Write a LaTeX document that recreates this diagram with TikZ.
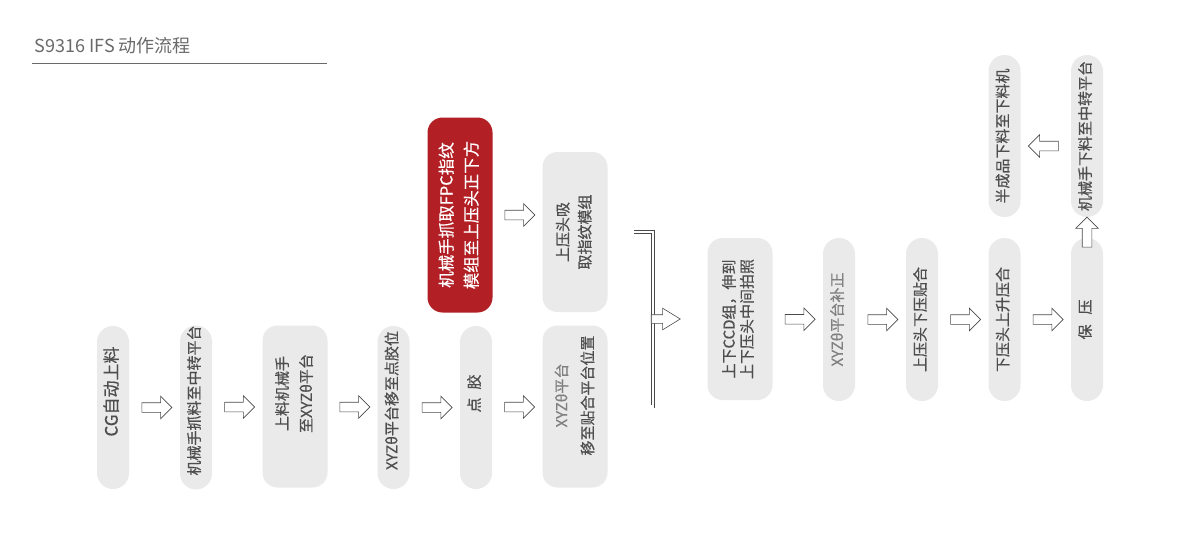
\documentclass[tikz,border=0pt]{standalone}
\usepackage{fontspec}
\setmainfont{Noto Sans CJK SC}[RawFeature={embolden=0.5}]
\newfontfamily\titlefont{Noto Sans CJK SC}
\usepackage{graphicx}
\usetikzlibrary{shapes.arrows,calc}
\definecolor{boxgray}{HTML}{EAEAEA}
\definecolor{textgray}{HTML}{4E4E4E}
\definecolor{paletext}{HTML}{808080}
\definecolor{titlegray}{HTML}{6A6A6A}
\definecolor{fpcred}{HTML}{B21F24}
\definecolor{arrowgray}{HTML}{4A4A4A}
\newcommand{\vlabel}[2][17pt]{\rotatebox{90}{\fontsize{15pt}{#1}\selectfont\begin{tabular}{@{}c@{}}#2\end{tabular}}}
\newcommand{\vlabelup}[3][17pt]{\rotatebox{90}{\fontsize{15pt}{#1}\selectfont\begin{tabular}{@{\hspace{#2}}c@{}}#3\end{tabular}}}

\begin{document}
\begin{tikzpicture}[x=1pt, y=-1pt,
  pill/.style = {fill=boxgray, text=textgray, rounded corners=16pt, minimum width=32pt, minimum height=163pt, inner sep=0pt},
  wide/.style = {fill=boxgray, text=textgray, rounded corners=15pt, minimum width=65pt, minimum height=162pt, inner sep=0pt},
  blockarrow/.style = {single arrow, draw=arrowgray, fill=white, line width=0.6pt, minimum height=30pt, inner xsep=0pt, inner ysep=4.5pt, single arrow head extend=6.5pt, outer sep=0pt}]
\fill [white] (0,0) rectangle (1200,544);
\useasboundingbox (0,0) rectangle (1200,544);
\node [anchor=base west, text=titlegray, font=\titlefont\fontsize{18pt}{21pt}\selectfont] (title) at (31,52) {S9316 IFS 动作流程};
\draw [titlegray, line width=0.8pt] (32,63) -- (327,63);
\node [pill] (cg) at (113,407.5) {\vlabelup{32pt}{\fontsize{17pt}{20pt}\selectfont CG自动上料}};
\node [pill] (grab) at (196,407.5) {\vlabelup{14pt}{机械手抓料至中转平台}};
\node [wide] (load) at (295,406.5) {\vlabelup[24pt]{26pt}{上料机械手\\至XYZθ平台}};
\node [pill] (moveglue) at (393.5,407.5) {\vlabelup{14pt}{XYZθ平台移至点胶位}};
\node [pill] (glue) at (476,407.5) {\vlabelup{28pt}{点\hspace{8pt}胶}};
\node [wide] (moveplat) at (575,406.5) {\vlabelup[26pt]{22pt}{\textcolor{paletext}{XYZθ平台}\\移至贴合平台位置}};
\node [fill=fpcred, text=white, rounded corners=15pt, minimum width=65pt, minimum height=195pt, inner sep=0pt] (fpc) at (460,215) {\rotatebox{90}{\fontsize{16.5pt}{25pt}\selectfont\begin{tabular}{@{}c@{}}机械手抓取FPC指纹\\模组至上压头正下方\end{tabular}}};
\node [wide, minimum height=160pt] (suck) at (575,232) {\vlabel[22pt]{上压头吸\\取指纹模组}};
\node [wide] (ccd) at (740,319) {\vlabel[18pt]{上下CCD组，伸到\\上下压头中间拍照}};
\node [pill] (correct) at (839,319.5) {\vlabel{\textcolor{paletext}{XYZθ平台补正}}};
\node [pill] (press) at (922,319.5) {\vlabel{上压头下压贴合}};
\node [pill] (lift) at (1004.5,319.5) {\vlabel{下压头上升压合}};
\node [pill] (hold) at (1087,319.5) {\vlabel{保\hspace{10pt}压}};
\node [pill, minimum height=162pt] (unload) at (1087,136) {\vlabel{机械手下料至中转平台}};
\node [pill, minimum height=162pt] (out) at (1004.5,136) {\vlabel{半成品下料至下料机}};
\node [blockarrow] (a1) at ($(cg.east)!0.5!(grab.west)$) {};
\node [blockarrow] (a2) at ($(grab.east)!0.5!(load.west)$) {};
\node [blockarrow] (a3) at ($(load.east)!0.5!(moveglue.west)$) {};
\node [blockarrow] (a4) at ($(moveglue.east)!0.5!(glue.west)$) {};
\node [blockarrow] (a5) at ($(glue.east)!0.5!(moveplat.west)$) {};
\node [blockarrow] (a6) at ($(fpc.east)!0.5!(fpc.east -| suck.west)$) {};
\coordinate (brtop) at ($(suck.east)+(26,0)$);
\coordinate (brbot) at ($(moveplat.east)+(26,0)$);
\coordinate (brright) at ($(brbot)+(19,0)$);
\draw [draw=arrowgray, double=white, line width=0.7pt, double distance=2.2pt] (brbot) -- (brright) -- (brright |- brtop) -- (brtop);
\node [blockarrow, minimum height=29pt, inner ysep=4pt, single arrow tip angle=63, anchor=tail] (a7) at ($(brright |- ccd.west)+(-1.45,0)$) {};
\node [blockarrow] (a8) at ($(ccd.east)!0.5!(correct.west)$) {};
\node [blockarrow] (a9) at ($(correct.east)!0.5!(press.west)$) {};
\node [blockarrow] (a10) at ($(press.east)!0.5!(lift.west)$) {};
\node [blockarrow] (a11) at ($(lift.east)!0.5!(hold.west)$) {};
\node [blockarrow, rotate=90] (a12) at ($(hold.north)!0.5!(unload.south)+(0,7)$) {};
\node [blockarrow, rotate=180] (a13) at ($(unload.west)!0.5!(out.east)+(0,10)$) {};
\end{tikzpicture}
\end{document}
